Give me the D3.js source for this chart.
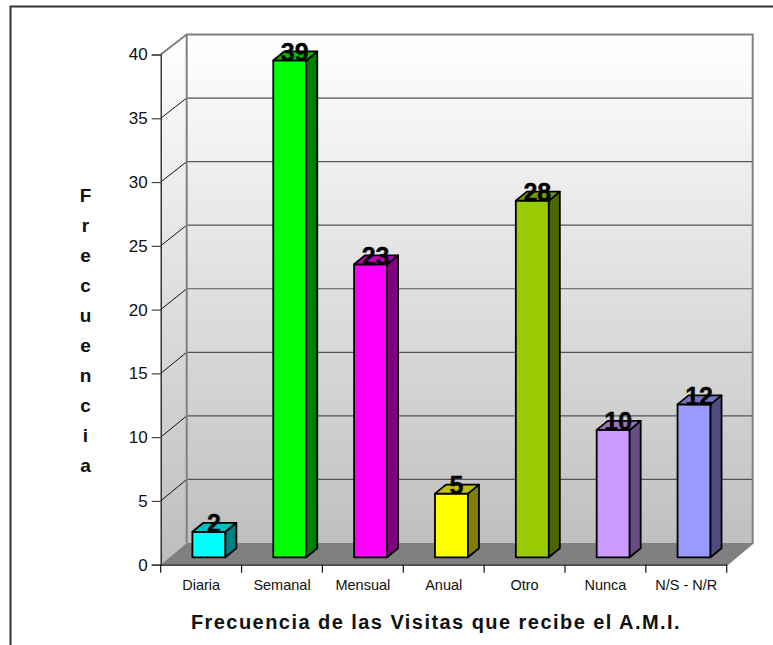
<!DOCTYPE html>
<html>
<head>
<meta charset="utf-8">
<script src="https://cdn.jsdelivr.net/npm/d3@7"></script>
<style>
body { margin: 0; background: #fff; }
svg { display: block; }
text { font-family: "Liberation Sans", Arial, sans-serif; }
</style>
</head>
<body>
<div id="chart-area"></div>
<script>
var categories = ["Diaria", "Semanal", "Mensual", "Anual", "Otro", "Nunca", "N/S - N/R"];
var values = [2, 39, 23, 5, 28, 10, 12];
var frontColors = ["#00FFFF", "#00FF00", "#FF00FF", "#FFFF00", "#99CC00", "#CC99FF", "#9999FF"];
var yTicks = [0, 5, 10, 15, 20, 25, 30, 35, 40];
var yTitle = "Frecuencia".split("");
var xTitle = "Frecuencia de las Visitas que recibe el A.M.I.";

var width = 773, height = 645;
var depthX = 26;                    // depth of the 3d box
var barDepthX = 11, barDepthY = 9;  // depth of each bar

var svg = d3.select("#chart-area")
	.append("svg")
		.attr("width", width)
		.attr("height", height);

// page frame, only left and top are visible
svg.append("path")
	.attr("d", "M10.5,645V6.5H773")
	.attr("fill", "none")
	.attr("stroke", "#333")
	.attr("stroke-width", 2);

var x = d3.scaleBand()
	.domain(categories)
	.range([160.7, 726.7]);

// front plane of the box
var y = d3.scaleLinear()
	.domain([0, 40])
	.range([564.7, 54.5]);

// back wall has its own scale
var yBack = d3.scaleLinear()
	.domain([0, 40])
	.range([543, 34.5]);

// bars stand a bit inside the floor
var yBar = d3.scaleLinear()
	.domain([0, 40])
	.range([557.3, 47.7]);

var grad = svg.append("defs").append("linearGradient")
	.attr("id", "wall")
	.attr("gradientUnits", "userSpaceOnUse")
	.attr("x1", 0).attr("x2", 0)
	.attr("y1", 34).attr("y2", 565);
grad.append("stop").attr("offset", "0%").attr("stop-color", "#ffffff");
grad.append("stop").attr("offset", "100%").attr("stop-color", "#bdbdbd");

var x0 = x.range()[0], x1 = x.range()[1];

// back wall
svg.append("rect")
	.attr("x", x0 + depthX)
	.attr("y", yBack(40))
	.attr("width", x1 - x0)
	.attr("height", yBack(0) - yBack(40))
	.attr("fill", "url(#wall)");

// side wall
svg.append("polygon")
	.attr("points", [[x0, y(40)], [x0 + depthX, yBack(40)], [x0 + depthX, yBack(0)], [x0, y(0)]].join(" "))
	.attr("fill", "url(#wall)");

// floor
svg.append("polygon")
	.attr("points", [[x0, y(0)], [x0 + depthX, yBack(0)], [x1 + depthX, yBack(0)], [x1, y(0)]].join(" "))
	.attr("fill", "#808080");

// gridlines on the wall
svg.selectAll(".grid")
	.data(yTicks.slice(1, -1))
	.enter()
	.append("line")
		.attr("class", "grid")
		.attr("x1", x0 + depthX)
		.attr("x2", x1 + depthX)
		.attr("y1", function(d){ return yBack(d) })
		.attr("y2", function(d){ return yBack(d) })
		.attr("stroke", "#555")
		.attr("stroke-width", 1.2);

// diagonals on the side wall
svg.selectAll(".diag")
	.data(yTicks.slice(1, -1))
	.enter()
	.append("line")
		.attr("class", "diag")
		.attr("x1", x0)
		.attr("x2", x0 + depthX)
		.attr("y1", function(d){ return y(d) })
		.attr("y2", function(d){ return yBack(d) })
		.attr("stroke", "#111")
		.attr("stroke-width", 1);

// wall outline
svg.append("path")
	.attr("d", "M" + x0 + "," + y(40) + "L" + (x0 + depthX) + "," + yBack(40) + "H" + (x1 + depthX) + "V" + yBack(0) + "L" + x1 + "," + y(0))
	.attr("fill", "none")
	.attr("stroke", "#808080")
	.attr("stroke-width", 2);
svg.append("line")
	.attr("x1", x0 + depthX).attr("x2", x0 + depthX)
	.attr("y1", yBack(40)).attr("y2", yBack(0))
	.attr("stroke", "#808080")
	.attr("stroke-width", 2);

// axes
var yAxisCall = d3.axisLeft(y)
	.tickValues(yTicks)
	.tickSize(9)
	.tickPadding(4);
var yAxis = svg.append("g")
	.attr("transform", "translate(" + x0 + ", 0)")
	.call(yAxisCall);
yAxis.selectAll("text").attr("font-size", "17px").attr("fill", "#111");
yAxis.selectAll("line, path").attr("stroke", "#111").attr("stroke-width", 1.2);
yAxis.selectAll(".tick line").attr("stroke", "#444");

var xAxisCall = d3.axisBottom(x)
	.tickSize(0)
	.tickPadding(15.5);
var xAxis = svg.append("g")
	.attr("transform", "translate(0, " + y(0) + ")")
	.call(xAxisCall);
xAxis.selectAll("text").attr("font-size", "14.5px").attr("fill", "#111");
xAxis.select(".domain").attr("stroke", "#111").attr("stroke-width", 1.2);

// ticks between the categories
svg.selectAll(".xtick")
	.data(categories.concat([null]))
	.enter()
	.append("line")
		.attr("class", "xtick")
		.attr("x1", function(d){ return d === null ? x1 : x(d) })
		.attr("x2", function(d){ return d === null ? x1 : x(d) })
		.attr("y1", y(0))
		.attr("y2", y(0) + 8)
		.attr("stroke", "#111")
		.attr("stroke-width", 1.2);

// bars
var barLeft = 31.7, barWidth = 33;
var bars = svg.selectAll(".bar")
	.data(values)
	.enter()
	.append("g")
		.attr("class", "bar")
		.attr("stroke", "#000")
		.attr("stroke-width", 1.8)
		.attr("stroke-linejoin", "round");

bars.append("rect")
	.attr("x", function(d, i){ return x(categories[i]) + barLeft })
	.attr("y", function(d){ return yBar(d) })
	.attr("width", barWidth)
	.attr("height", function(d){ return yBar(0) - yBar(d) })
	.attr("fill", function(d, i){ return frontColors[i] });

// right side, half as bright
bars.append("polygon")
	.attr("points", function(d, i){
		var r = x(categories[i]) + barLeft + barWidth;
		return [[r, yBar(d)], [r + barDepthX, yBar(d) - barDepthY], [r + barDepthX, yBar(0) - barDepthY], [r, yBar(0)]].join(" ");
	})
	.attr("fill", function(d, i){ return d3.interpolateRgb(frontColors[i], "#000")(0.5) });

// top
bars.append("polygon")
	.attr("points", function(d, i){
		var l = x(categories[i]) + barLeft, r = l + barWidth;
		return [[l, yBar(d)], [l + barDepthX, yBar(d) - barDepthY], [r + barDepthX, yBar(d) - barDepthY], [r, yBar(d)]].join(" ");
	})
	.attr("fill", function(d, i){ return d3.interpolateRgb(frontColors[i], "#000")(0.25) });

// value labels
svg.selectAll(".val")
	.data(values)
	.enter()
	.append("text")
		.attr("class", "val")
		.attr("x", function(d, i){ return x(categories[i]) + barLeft + barWidth / 2 + 5 })
		.attr("y", function(d){ return yBar(d) + 0.5 })
		.attr("text-anchor", "middle")
		.attr("font-size", "25px")
		.attr("font-weight", "bold")
		.attr("fill", "#000")
		.attr("stroke", "#000")
		.attr("stroke-width", 0.4)
		.text(function(d){ return d });

// x label
svg.append("text")
	.attr("x", 436)
	.attr("y", 629)
	.attr("text-anchor", "middle")
	.attr("font-size", "20px")
	.attr("letter-spacing", "1.45px")
	.attr("font-weight", "bold")
	.attr("fill", "#111")
	.text(xTitle);

// y label, one letter per row
svg.selectAll(".ytitle")
	.data(yTitle)
	.enter()
	.append("text")
		.attr("class", "ytitle")
		.attr("x", 85.5)
		.attr("y", function(d, i){ return 201.5 + i * 30 })
		.attr("text-anchor", "middle")
		.attr("font-size", "19px")
		.attr("font-weight", "bold")
		.attr("fill", "#111")
		.text(function(d){ return d });
</script>
</body>
</html>
